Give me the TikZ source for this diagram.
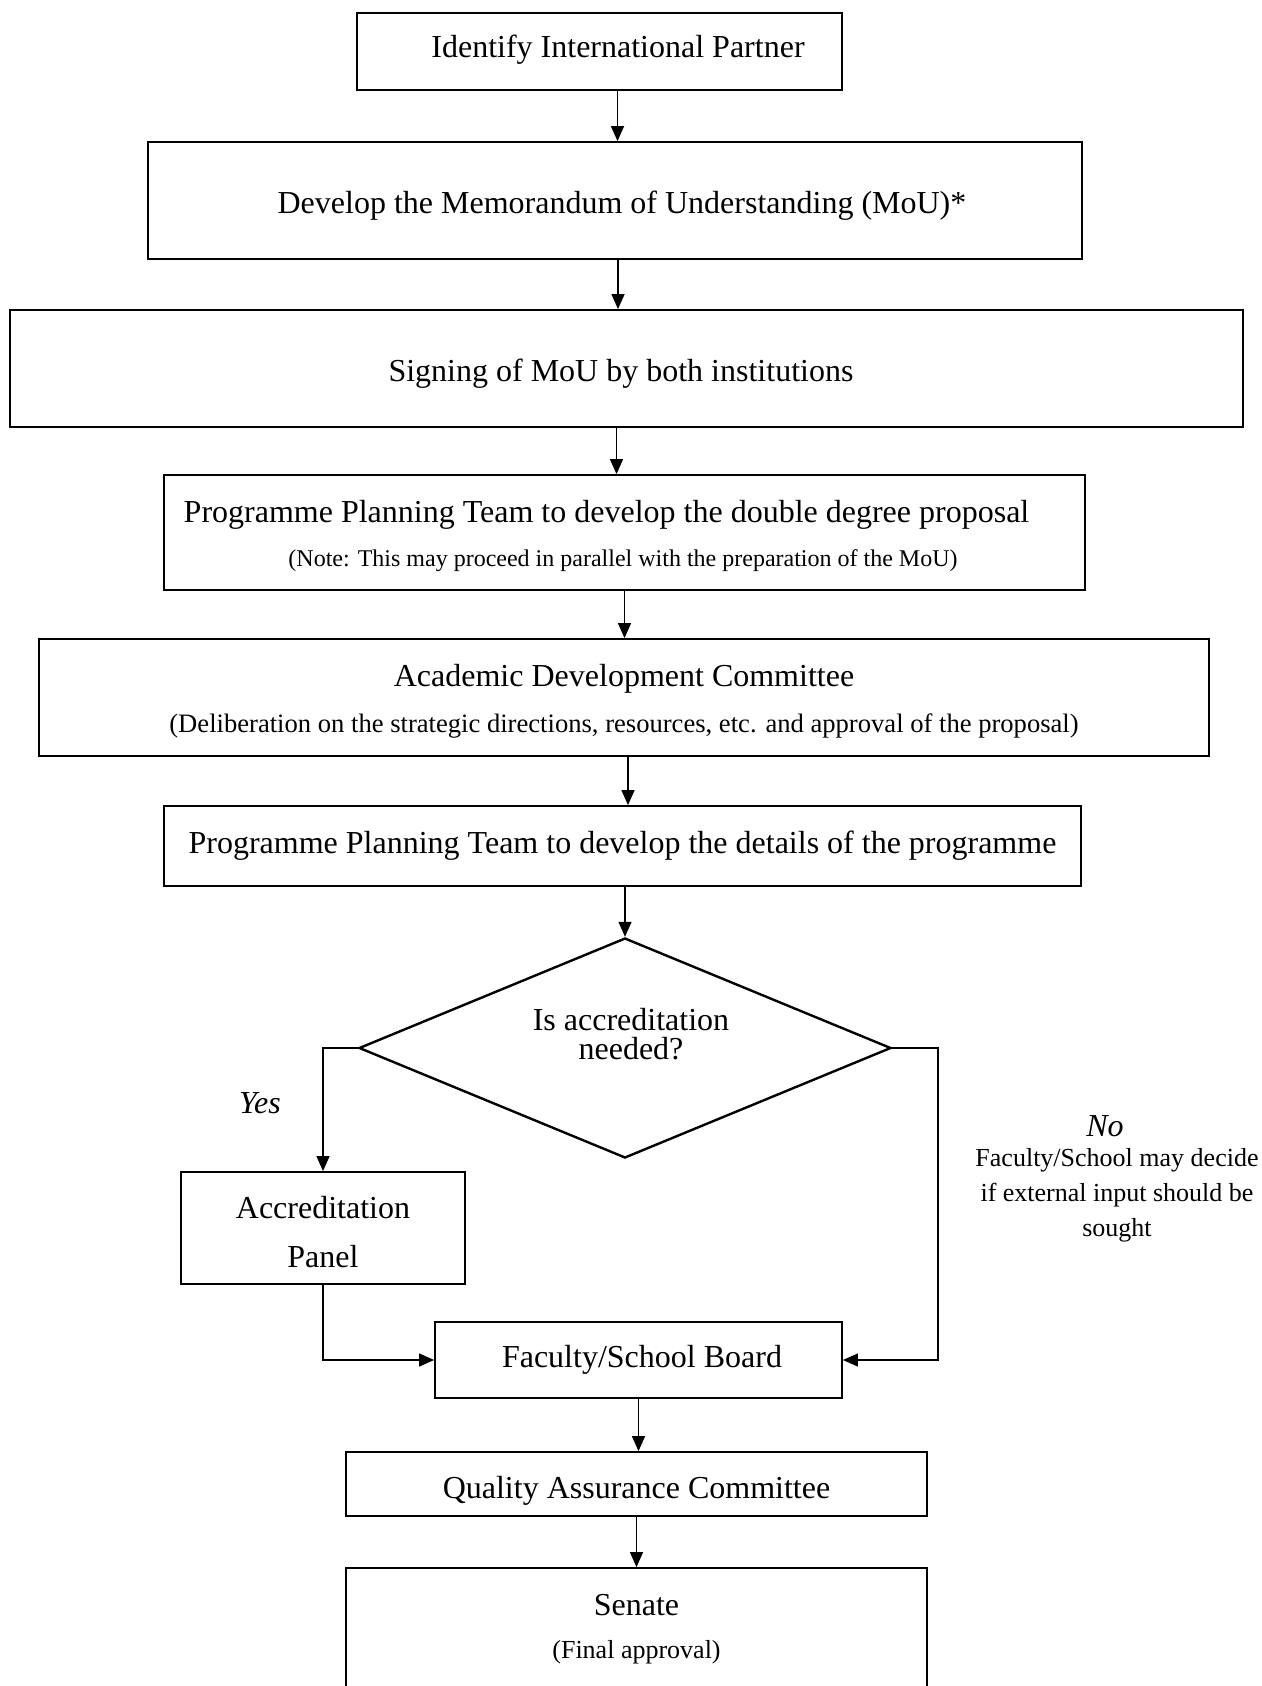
\documentclass[tikz,border=0pt]{standalone}
\usepackage{fontspec}
\setmainfont{Liberation Serif}
\usetikzlibrary{shapes.geometric, arrows.meta}

\begin{document}
\begin{tikzpicture}[x=0.5pt, y=-0.5pt,
	font=\fontsize{16}{19}\selectfont,
	stage/.style={rectangle, draw, line width=0.9pt, inner sep=0pt},
	decision/.style={diamond, draw, line width=1.2pt, inner sep=0pt},
	txt/.style={inner sep=0pt, align=center},
	note/.style={inner sep=0pt, font=\fontsize{12}{14}\selectfont},
	arr/.style={line width=0.65pt, -{Triangle[length=7.5pt, width=6.5pt]}}]
	\useasboundingbox (0,0) rectangle (1262,1686);
	\clip (0,0) rectangle (1262,1686);

	% main column
	\node[stage, minimum width=242.5pt, minimum height=38.5pt] (partner) at (599.5,51.5) {};
	\node[txt] (partner-text) at (618,50) {Identify International Partner};
	\node[stage, minimum width=467pt, minimum height=58.5pt] (mou) at (615,200.5) {};
	\node[txt] (mou-text) at (622,206) {Develop the Memorandum of Understanding (MoU)*};
	\node[stage, minimum width=616.5pt, minimum height=58.5pt] (signing) at (626.5,368.5) {};
	\node[txt] (signing-text) at (621,374) {Signing of MoU by both institutions};
	\node[stage, minimum width=460.5pt, minimum height=57.5pt] (proposal) at (624.5,532.5) {};
	\node[txt] (proposal-main) at (606.5,515) {Programme Planning Team to develop the double degree proposal};
	\node[note] (proposal-note) at (623,561) {(Note: This may proceed in parallel with the preparation of the MoU)};
	\node[stage, minimum width=585pt, minimum height=58.5pt] (adc) at (624,697.5) {};
	\node[txt] (adc-main) at (624,679) {Academic Development Committee};
	\node[note, font=\fontsize{13.3}{15}\selectfont] (adc-note) at (624,726) {(Deliberation on the strategic directions, resources, etc. and approval of the proposal)};
	\node[stage, minimum width=458.5pt, minimum height=40pt] (details) at (622.5,846) {Programme Planning Team to develop the details of the programme};

	% decision
	\node[decision, minimum width=266pt, minimum height=110pt] (check) at (625,1048) {};
	\node[txt, font=\fontsize{16}{14.5}\selectfont] (check-text) at (631,1034) {Is accreditation\\needed?};
	\node[txt, font=\fontsize{16}{19}\selectfont\itshape] (yes) at (260,1103) {Yes};
	\node[txt, font=\fontsize{16}{19}\selectfont\itshape] (no) at (1105,1126) {No};
	\node[txt, font=\fontsize{13}{17.5}\selectfont] (no-note) at (1117,1195) {Faculty/School may decide\\if external input should be\\sought};
	\node[stage, minimum width=142pt, minimum height=56pt, align=center, font=\fontsize{16}{24.5}\selectfont] (panel) at (323,1228) {};
	\node[txt, font=\fontsize{16}{24.5}\selectfont] (panel-text) at (323,1232) {Accreditation\\Panel};
	\coordinate (no-bend) at (938,1048);

	% approvals
	\node[stage, minimum width=203.5pt, minimum height=38pt] (board) at (638.5,1360) {};
	\node[txt] (board-text) at (642,1360) {Faculty/School Board};
	\node[stage, minimum width=290.5pt, minimum height=32pt] (qa) at (636.5,1484) {};
	\node[txt] (qa-text) at (636.5,1491) {Quality Assurance Committee};
	\node[stage, minimum width=290.5pt, minimum height=66pt] (senate) at (636.5,1634) {};
	\node[txt] (senate-main) at (636.5,1605) {Senate};
	\node[txt, font=\fontsize{13}{15}\selectfont] (senate-note) at (636.5,1652) {(Final approval)};

	% connectors
	\draw[arr] ([xshift=9pt]partner.south) -- ([xshift=9pt]partner.south |- mou.north);
	\draw[arr] ([xshift=1.5pt]mou.south) -- ([xshift=1.5pt]mou.south |- signing.north);
	\draw[arr] ([xshift=-5pt]signing.south) -- ([xshift=-5pt]signing.south |- proposal.north);
	\draw[arr] (proposal.south) -- (proposal.south |- adc.north);
	\draw[arr] ([xshift=2pt]adc.south) -- ([xshift=2pt]adc.south |- details.north);
	\draw[arr] (check.north |- details.south) -- (check.north);
	\draw[arr] (check.west) -| (panel.north);
	\draw[arr] (panel.south) |- (board.west);
	\draw[arr] (check.east) -- (no-bend) |- (board.east);
	\draw[arr] (board.south) -- (board.south |- qa.north);
	\draw[arr] (qa.south) -- (qa.south |- senate.north);
\end{tikzpicture}
\end{document}
